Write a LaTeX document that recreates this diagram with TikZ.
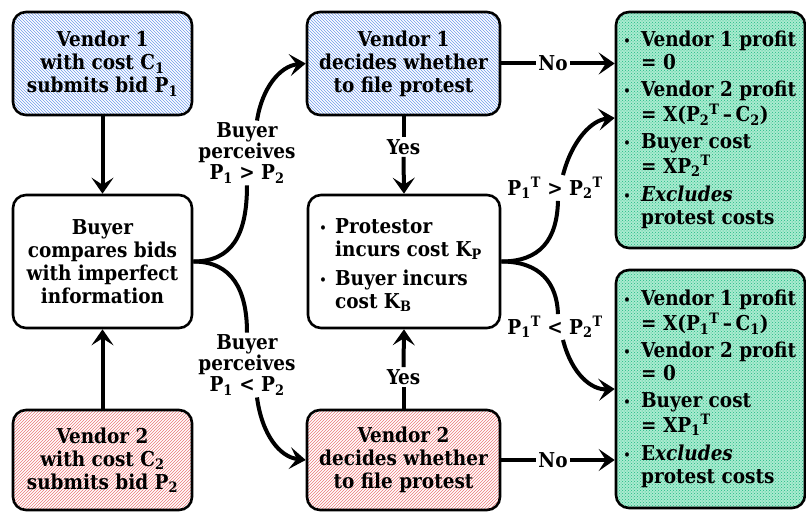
\documentclass[tikz,border=0pt]{standalone}
\usepackage{fontspec}
\setmainfont{DejaVu Serif Condensed}
\usetikzlibrary{arrows.meta,patterns}
\definecolor{hblue}{RGB}{110,155,235}
\definecolor{hred}{RGB}{235,120,120}
\definecolor{gfill}{RGB}{170,235,208}
\definecolor{gdot}{RGB}{30,185,130}
\newcommand{\bul}{{\mdseries\fontsize{15}{15}\selectfont\textbullet}}
\begin{document}
\begin{tikzpicture}[x=1pt,y=-1pt,
  font=\fontsize{20.5}{23}\selectfont\bfseries,
  box/.style={draw, line width=2.6pt, rounded corners=13pt, align=center, inner sep=0pt},
  bluebox/.style={box, preaction={fill=white}, pattern=north west lines, pattern color=hblue},
  redbox/.style={box, preaction={fill=white}, pattern=north east lines, pattern color=hred},
  greenbox/.style={box, preaction={fill=gfill}, pattern=crosshatch dots, pattern color=gdot},
  whitebox/.style={box, fill=white},
  ln/.style={line width=4pt},
  arr/.style={line width=4pt, -{Stealth[length=16pt,width=22pt,inset=7pt]}},
  lbl/.style={align=center, inner sep=2pt, font=\fontsize{20.5}{21}\selectfont\bfseries}]
\useasboundingbox (0,0) rectangle (806,513);

% boxes
\node[bluebox, minimum width=179pt, minimum height=103pt] (v1) at (102.5,63.5)
  {Vendor 1\\with cost C\textsubscript{1}\\submits bid P\textsubscript{1}};
\node[whitebox, minimum width=179pt, minimum height=133pt] (buyer) at (102.5,261.5)
  {Buyer\\compares bids\\with imperfect\\information};
\node[redbox, minimum width=179pt, minimum height=100pt] (v2) at (102.5,460)
  {Vendor 2\\with cost C\textsubscript{2}\\submits bid P\textsubscript{2}};
\node[bluebox, minimum width=193pt, minimum height=103pt] (v1d) at (403.5,63.5)
  {Vendor 1\\decides whether\\to file protest};
\node[whitebox, minimum width=192pt, minimum height=133pt] (prot) at (404,261.5) {};
\node[anchor=west, inner sep=0pt, align=left] (prottxt) at (319,266)
  {\begin{tabular}{@{}l@{\hspace{8pt}}l@{}}
   \bul & Protestor\\
        & incurs cost K\textsubscript{P}\\[6pt]
   \bul & Buyer incurs\\
        & cost K\textsubscript{B}
   \end{tabular}};
\node[redbox, minimum width=193pt, minimum height=100pt] (v2d) at (403.5,460)
  {Vendor 2\\decides whether\\to file protest};
\node[greenbox, minimum width=189pt, minimum height=236pt] (g1) at (710.5,130) {};
\node[anchor=west, inner sep=0pt, align=left] (g1txt) at (623,131)
  {\begin{tabular}{@{}l@{\hspace{10pt}}l@{}}
   \bul & Vendor 1 profit\\
        & = 0\\[4pt]
   \bul & Vendor 2 profit\\
        & = X(P\textsubscript{2}\textsuperscript{T}\,--\,C\textsubscript{2})\\[4pt]
   \bul & Buyer cost\\
        & = XP\textsubscript{2}\textsuperscript{T}\\[5pt]
   \bul & \textit{Excludes}\\
        & protest costs
   \end{tabular}};
\node[greenbox, minimum width=189pt, minimum height=238pt] (g2) at (710.5,389) {};
\node[anchor=west, inner sep=0pt, align=left] (g2txt) at (623,390)
  {\begin{tabular}{@{}l@{\hspace{10pt}}l@{}}
   \bul & Vendor 1 profit\\
        & = X(P\textsubscript{1}\textsuperscript{T}\,--\,C\textsubscript{1})\\[4pt]
   \bul & Vendor 2 profit\\
        & = 0\\[4pt]
   \bul & Buyer cost\\
        & = XP\textsubscript{1}\textsuperscript{T}\\[5pt]
   \bul & E\textit{xcludes}\\
        & protest costs
   \end{tabular}};

% labels
\node[lbl] (bl1) at (247,153) {Buyer\\perceives\\P\textsubscript{1} > P\textsubscript{2}};
\node[lbl] (bl2) at (247,365) {Buyer\\perceives\\P\textsubscript{1} < P\textsubscript{2}};
\node[lbl] (pl1) at (555,188) {P\textsubscript{1}\textsuperscript{T} > P\textsubscript{2}\textsuperscript{T}};
\node[lbl] (pl2) at (555,327) {P\textsubscript{1}\textsuperscript{T} < P\textsubscript{2}\textsuperscript{T}};
\node[lbl] (yes1) at (403.5,147) {Yes};
\node[lbl] (yes2) at (403.5,377) {Yes};
\node[lbl] (no1) at (553,63.5) {No};
\node[lbl] (no2) at (553,460) {No};

% connectors
\draw[arr] (v1.south) -- (buyer.north);
\draw[arr] (v2.north) -- (buyer.south);
\draw[ln] (buyer.east) .. controls (232,261.5) and (247,235) .. (bl1.south);
\draw[arr] ([xshift=10pt]bl1.north) .. controls (262,88) and (280,66) .. (v1d.west);
\draw[ln] (buyer.east) .. controls (232,261.5) and (247,290) .. (bl2.north);
\draw[arr] ([xshift=10pt]bl2.south) .. controls (262,435) and (280,457) .. (v2d.west);
\draw[ln] (v1d.south) -- (yes1.north);
\draw[arr] (yes1.south) -- (prot.north);
\draw[ln] (v2d.north) -- (yes2.south);
\draw[arr] (yes2.north) -- (prot.south);
\draw[ln] (v1d.east) -- (no1.west);
\draw[arr] (no1.east) -- (g1.west |- no1.east);
\draw[ln] (v2d.east) -- (no2.west);
\draw[arr] (no2.east) -- (g2.west |- no2.east);
\draw[ln] (prot.east) .. controls (540,261.5) and (557,240) .. ([xshift=3pt]pl1.south);
\draw[arr] ([xshift=8pt]pl1.north) .. controls (572,140) and (592,120) .. ([yshift=12pt]g1.west);
\draw[ln] (prot.east) .. controls (540,261.5) and (557,283) .. ([xshift=3pt]pl2.north);
\draw[arr] ([xshift=8pt]pl2.south) .. controls (572,375) and (592,390) .. (g2.west);
\end{tikzpicture}
\end{document}
